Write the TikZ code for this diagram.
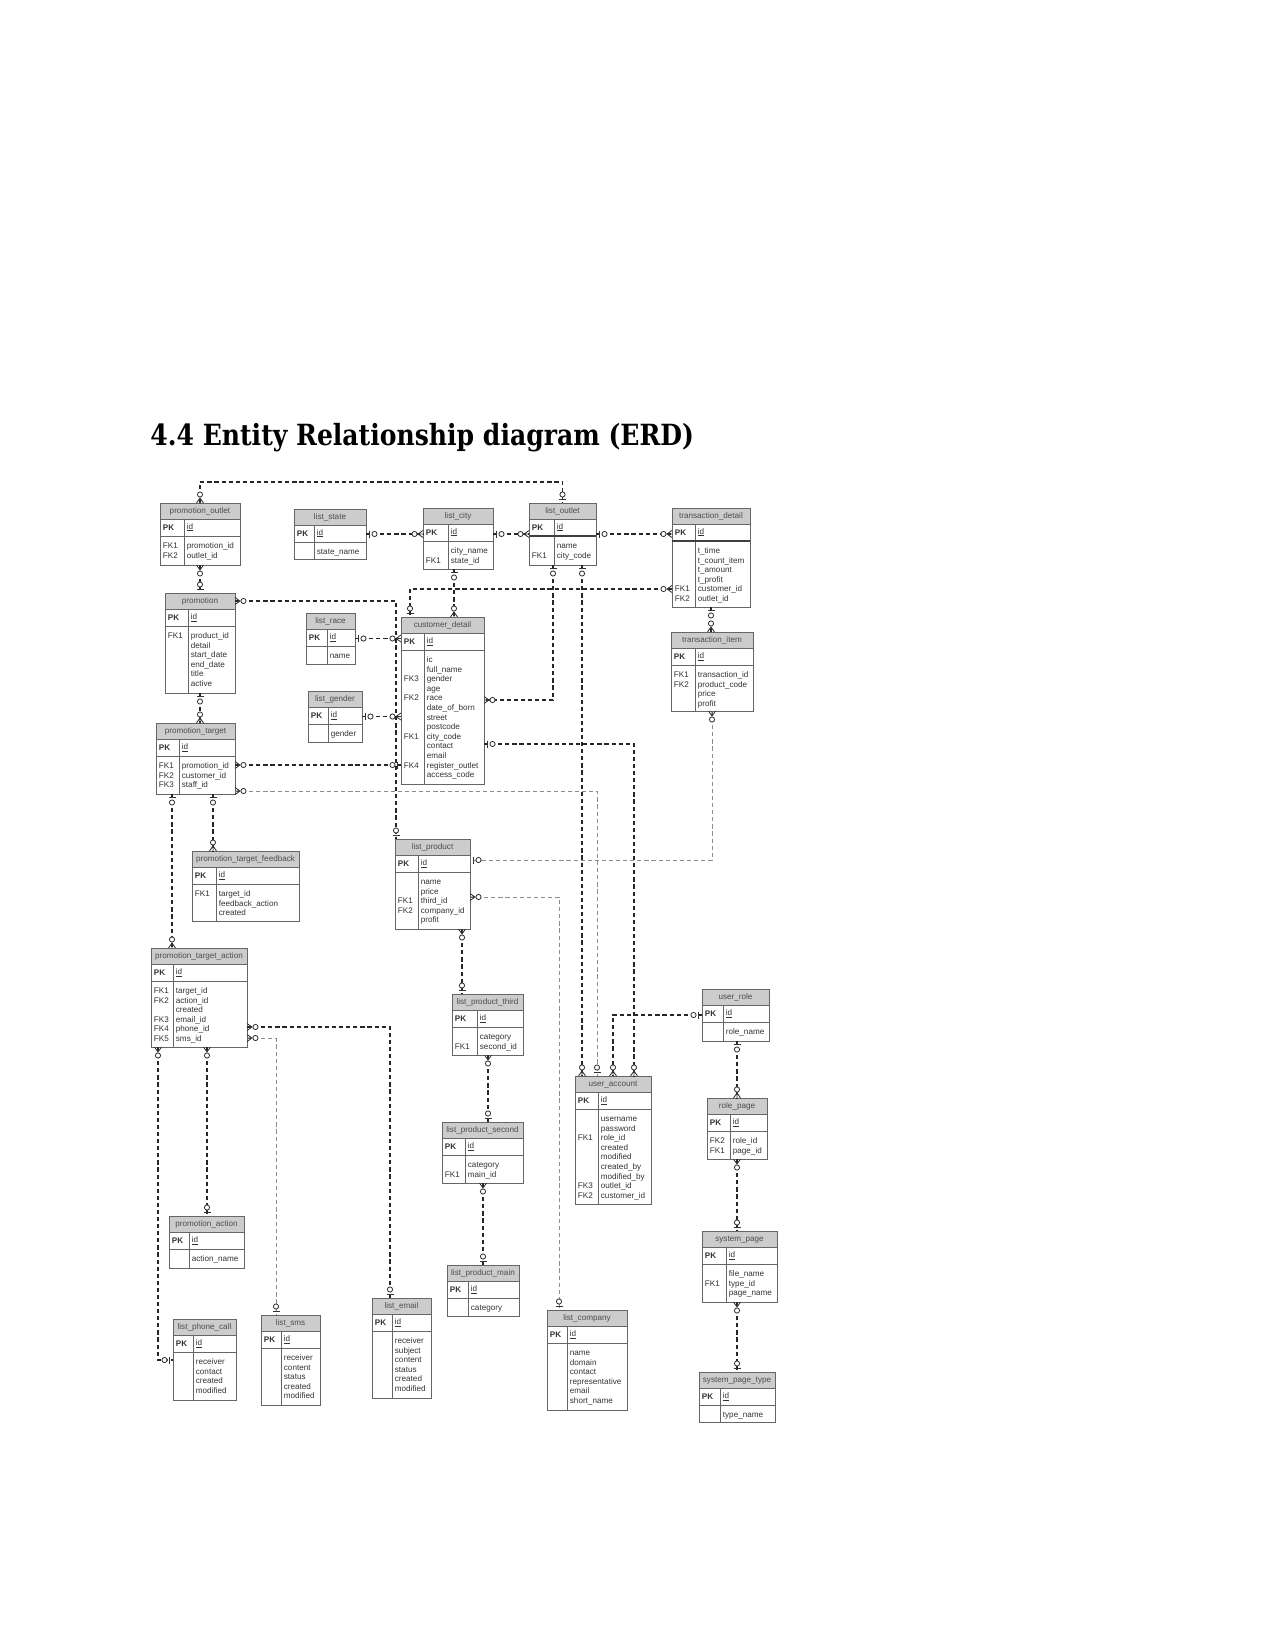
\documentclass[tikz,border=0pt]{standalone}
\usepackage{fontspec}
\newfontfamily\erdfont{Liberation Sans}
\newfontfamily\headfont[FakeStretch=0.86]{DejaVu Serif}
\usetikzlibrary{calc}

% underlined key name, rule kept close to the text
\newcommand{\keyid}{\setbox0\hbox{id}\rlap{\rule[-0.55pt]{\wd0}{0.25pt}}\box0}

% one table of the ERD: name, x, y, width, height, key column, title, keys, fields
\newcommand{\erent}[9]{%
  \begin{scope}[shift={(#2,#3)}]
    \fill[white] (0,0) rectangle (#4,#5);
    \fill[ehead] (0,0) rectangle (#4,16);
    \draw[eline] (0,16) -- (#4,16) (0,33) -- (#4,33) (#6,16) -- (#6,#5);
    \node[ttl] at (#4/2,8.5) {#7};
    \node[etxt, anchor=west] at (2.5,24.5) {\textbf{PK}};
    \node[etxt, anchor=west] at (#6+2.5,24.5) {\keyid};
    \node[etxt, anchor=north west] at (2.5,38.5) {\strut#8};
    \node[etxt, anchor=north west] at (#6+2.5,38.5) {\strut#9};
    \draw[eline] (0,0) rectangle (#4,#5);
  \end{scope}
  \node[eframe, minimum width=#4*0.48pt, minimum height=#5*0.48pt, anchor=north west] (#1) at (#2,#3) {};}

\tikzset{
  ehead/.style={fill=gray!40},
  eline/.style={draw=black!60, line width=0.45pt},
  etxt/.style={font=\erdfont\fontsize{3.9}{4.6}\selectfont, text=black!80, inner sep=0pt, align=left},
  ttl/.style={font=\erdfont\fontsize{3.9}{4.6}\selectfont, text=black!70, inner sep=0pt},
  eframe/.style={inner sep=0pt, outer sep=0pt},
  rel/.style={draw=black!85, line width=0.6pt, dash pattern=on 2pt off 1.4pt},
  rellight/.style={rel, draw=black!45, line width=0.45pt},
  zmany/.pic={
    \draw[black!80, line width=0.4pt] (0,-3.5) -- (5,0) -- (0,3.5) (0,0) -- (5,0);
    \draw[black!80, line width=0.4pt, fill=white] (8.5,0) circle (2.6);},
  zone/.pic={
    \draw[black!80, line width=0.4pt] (3.5,-3.5) -- (3.5,3.5);
    \draw[black!80, line width=0.4pt, fill=white] (8.5,0) circle (2.6);},
}

\begin{document}
\begin{tikzpicture}[x=0.48pt, y=-0.48pt]
  \useasboundingbox (0,0) rectangle (1275,1651);
  \node[anchor=base west, inner sep=0pt, font=\headfont\bfseries\fontsize{14}{17}\selectfont] (title) at (150,445)
    {4.4 Entity Relationship diagram (ERD)};

  % tables
  \erent{promoOutlet}{160}{503}{80}{62}{24}{promotion\_outlet}{FK1\\FK2}{promotion\_id\\outlet\_id}
  \erent{listState}{294}{509}{72}{50}{20}{list\_state}{}{state\_name}
  \erent{listCity}{423}{508}{70}{61}{25}{list\_city}{~\\FK1}{city\_name\\state\_id}
  \erent{listOutlet}{529}{503}{67}{62}{25}{list\_outlet}{~\\FK1}{name\\city\_code}
  \erent{transDetail}{672}{508}{78}{99}{23}{transaction\_detail}{~\\~\\~\\~\\FK1\\FK2}{t\_time\\t\_count\_item\\t\_amount\\t\_profit\\customer\_id\\outlet\_id}
  \erent{transItem}{671}{632}{82}{79}{24}{transaction\_item}{FK1\\FK2}{transaction\_id\\product\_code\\price\\profit}
  \erent{listRace}{306}{613}{49}{51}{21}{list\_race}{}{name}
  \erent{listGender}{308}{691}{54}{51}{20}{list\_gender}{}{gender}
  \erent{custDetail}{401}{617}{83}{167}{23}{customer\_detail}{~\\~\\FK3\\~\\FK2\\~\\~\\~\\FK1\\~\\~\\FK4\\~}{ic\\full\_name\\gender\\age\\race\\date\_of\_born\\street\\postcode\\city\_code\\contact\\email\\register\_outlet\\access\_code}
  \erent{promo}{165}{593}{70}{100}{23}{promotion}{FK1}{product\_id\\detail\\start\_date\\end\_date\\title\\active}
  \erent{promoTarget}{156}{723}{79}{71}{23}{promotion\_target}{FK1\\FK2\\FK3}{promotion\_id\\customer\_id\\staff\_id}
  \erent{targetFeedback}{192}{851}{107}{70}{24}{promotion\_target\_feedback}{FK1}{target\_id\\feedback\_action\\created}
  \erent{listProduct}{395}{839}{75}{90}{23}{list\_product}{~\\~\\FK1\\FK2}{name\\price\\third\_id\\company\_id\\profit}
  \erent{targetAction}{151}{948}{96}{99}{22}{promotion\_target\_action}{FK1\\FK2\\~\\FK3\\FK4\\FK5}{target\_id\\action\_id\\created\\email\_id\\phone\_id\\sms\_id}
  \erent{productThird}{452}{994}{71}{61}{25}{list\_product\_third}{~\\FK1}{category\\second\_id}
  \erent{productSecond}{442}{1122}{81}{61}{23}{list\_product\_second}{~\\FK1}{category\\main\_id}
  \erent{productMain}{447}{1265}{72}{51}{21}{list\_product\_main}{}{category}
  \erent{userAccount}{575}{1076}{76}{128}{23}{user\_account}{~\\~\\FK1\\~\\~\\~\\~\\FK3\\FK2}{username\\password\\role\_id\\created\\modified\\created\_by\\modified\_by\\outlet\_id\\customer\_id}
  \erent{userRole}{702}{989}{67}{52}{21}{user\_role}{}{role\_name}
  \erent{rolePage}{707}{1098}{60}{61}{23}{role\_page}{FK2\\FK1}{role\_id\\page\_id}
  \erent{sysPage}{702}{1231}{75}{71}{24}{system\_page}{~\\FK1}{file\_name\\type\_id\\page\_name}
  \erent{sysPageType}{699}{1372}{76}{50}{21}{system\_page\_type}{}{type\_name}
  \erent{promoAction}{169}{1216}{75}{52}{20}{promotion\_action}{}{action\_name}
  \erent{listPhone}{173}{1319}{63}{81}{20}{list\_phone\_call}{}{receiver\\contact\\created\\modified}
  \erent{listSms}{261}{1315}{59}{90}{20}{list\_sms}{}{receiver\\content\\status\\created\\modified}
  \erent{listEmail}{372}{1298}{59}{100}{20}{list\_email}{}{receiver\\subject\\content\\status\\created\\modified}
  \erent{listCompany}{547}{1310}{80}{100}{20}{list\_company}{}{name\\domain\\contact\\representative\\email\\short\_name}
  % heavier rule under the key row of two tables
  \draw[black!75, line width=0.9pt] ($(listOutlet.north west)+(0,33)$) -- ($(listOutlet.north east)+(0,33)$);
  \draw[black!75, line width=0.9pt] ($(transDetail.north west)+(0,33)$) -- ($(transDetail.north east)+(0,33)$);

  % relations
  \draw[rel] (promoOutlet.north) -- ++(0,-21) -| (listOutlet.north);
  \pic[rotate=90] at (promoOutlet.north) {zmany};
  \pic[rotate=90] at (listOutlet.north) {zone};

  \draw[rel] (promoOutlet.south) -- (promo.north);
  \pic[rotate=270] at (promoOutlet.south) {zmany};
  \pic[rotate=90] at (promo.north) {zone};

  \draw[rel] (listState.east) -- (listState.east -| listCity.west);
  \pic at (listState.east) {zone};
  \pic[rotate=180] at (listState.east -| listCity.west) {zmany};

  \draw[rel] (listOutlet.west -| listCity.east) -- (listOutlet.west);
  \pic at (listOutlet.west -| listCity.east) {zone};
  \pic[rotate=180] at (listOutlet.west) {zmany};

  \draw[rel] (listOutlet.east) -- (listOutlet.east -| transDetail.west);
  \pic at (listOutlet.east) {zone};
  \pic[rotate=180] at (listOutlet.east -| transDetail.west) {zmany};

  \draw[rel] (454,0 |- listCity.south) -- (454,0 |- custDetail.north);
  \pic[rotate=270] at (454,0 |- listCity.south) {zone};
  \pic[rotate=90] at (454,0 |- custDetail.north) {zmany};

  \draw[rel] (transDetail.west |- 0,589) -| (410,0 |- custDetail.north);
  \pic[rotate=180] at (transDetail.west |- 0,589) {zmany};
  \pic[rotate=90] at (410,0 |- custDetail.north) {zone};

  \draw[rel] (553,0 |- listOutlet.south) |- (custDetail.east |- 0,700);
  \pic[rotate=270] at (553,0 |- listOutlet.south) {zone};
  \pic at (custDetail.east |- 0,700) {zmany};

  \draw[rel] (582,0 |- listOutlet.south) -- (582,0 |- userAccount.north);
  \pic[rotate=270] at (582,0 |- listOutlet.south) {zone};
  \pic[rotate=90] at (582,0 |- userAccount.north) {zmany};

  \draw[rel] (transDetail.south) -- (transDetail.south |- transItem.north);
  \pic[rotate=270] at (transDetail.south) {zone};
  \pic[rotate=90] at (transDetail.south |- transItem.north) {zmany};

  \draw[rellight] (transItem.south) |- (listProduct.east |- 0,860);
  \pic[rotate=270] at (transItem.south) {zmany};
  \pic at (listProduct.east |- 0,860) {zone};

  \draw[rel] (listRace.east) -- (listRace.east -| custDetail.west);
  \pic at (listRace.east) {zone};
  \pic[rotate=180] at (listRace.east -| custDetail.west) {zmany};

  \draw[rel] (listGender.east) -- (listGender.east -| custDetail.west);
  \pic at (listGender.east) {zone};
  \pic[rotate=180] at (listGender.east -| custDetail.west) {zmany};

  \draw[rel] (promo.east |- 0,601) -| (396,0 |- listProduct.north);
  \pic at (promo.east |- 0,601) {zmany};
  \pic[rotate=90] at (396,0 |- listProduct.north) {zone};

  \draw[rel] (promo.south) -- (promo.south |- promoTarget.north);
  \pic[rotate=270] at (promo.south) {zone};
  \pic[rotate=90] at (promo.south |- promoTarget.north) {zmany};

  \draw[rel] (promoTarget.east |- 0,765) -- (custDetail.west |- 0,765);
  \pic at (promoTarget.east |- 0,765) {zmany};
  \pic[rotate=180] at (custDetail.west |- 0,765) {zone};

  \draw[rellight] (promoTarget.east |- 0,791) -| (597,0 |- userAccount.north);
  \pic at (promoTarget.east |- 0,791) {zmany};
  \pic[rotate=90] at (597,0 |- userAccount.north) {zone};

  \draw[rel] (custDetail.east |- 0,744) -| (634,0 |- userAccount.north);
  \pic at (custDetail.east |- 0,744) {zone};
  \pic[rotate=90] at (634,0 |- userAccount.north) {zmany};

  \draw[rel] (userRole.west |- 0,1015) -| (613,0 |- userAccount.north);
  \pic[rotate=180] at (userRole.west |- 0,1015) {zone};
  \pic[rotate=90] at (613,0 |- userAccount.north) {zmany};

  \draw[rel] (737,0 |- userRole.south) -- (737,0 |- rolePage.north);
  \pic[rotate=270] at (737,0 |- userRole.south) {zone};
  \pic[rotate=90] at (737,0 |- rolePage.north) {zmany};

  \draw[rel] (rolePage.south) -- (rolePage.south |- sysPage.north);
  \pic[rotate=270] at (rolePage.south) {zmany};
  \pic[rotate=90] at (rolePage.south |- sysPage.north) {zone};

  \draw[rel] (737,0 |- sysPage.south) -- (737,0 |- sysPageType.north);
  \pic[rotate=270] at (737,0 |- sysPage.south) {zmany};
  \pic[rotate=90] at (737,0 |- sysPageType.north) {zone};

  \draw[rel] (172,0 |- promoTarget.south) -- (172,0 |- targetAction.north);
  \pic[rotate=270] at (172,0 |- promoTarget.south) {zone};
  \pic[rotate=90] at (172,0 |- targetAction.north) {zmany};

  \draw[rel] (213,0 |- promoTarget.south) -- (213,0 |- targetFeedback.north);
  \pic[rotate=270] at (213,0 |- promoTarget.south) {zone};
  \pic[rotate=90] at (213,0 |- targetFeedback.north) {zmany};

  \draw[rel] (targetAction.east |- 0,1027) -| (390,0 |- listEmail.north);
  \pic at (targetAction.east |- 0,1027) {zmany};
  \pic[rotate=90] at (390,0 |- listEmail.north) {zone};

  \draw[rellight] (targetAction.east |- 0,1038) -| (276,0 |- listSms.north);
  \pic at (targetAction.east |- 0,1038) {zmany};
  \pic[rotate=90] at (276,0 |- listSms.north) {zone};

  \draw[rel] (158,0 |- targetAction.south) |- (listPhone.west |- 0,1360);
  \pic[rotate=270] at (158,0 |- targetAction.south) {zmany};
  \pic[rotate=180] at (listPhone.west |- 0,1360) {zone};

  \draw[rel] (207,0 |- targetAction.south) -- (207,0 |- promoAction.north);
  \pic[rotate=270] at (207,0 |- targetAction.south) {zmany};
  \pic[rotate=90] at (207,0 |- promoAction.north) {zone};

  \draw[rel] (462,0 |- listProduct.south) -- (462,0 |- productThird.north);
  \pic[rotate=270] at (462,0 |- listProduct.south) {zmany};
  \pic[rotate=90] at (462,0 |- productThird.north) {zone};

  \draw[rellight] (listProduct.east |- 0,897) -| (559,0 |- listCompany.north);
  \pic at (listProduct.east |- 0,897) {zmany};
  \pic[rotate=90] at (559,0 |- listCompany.north) {zone};

  \draw[rel] (488,0 |- productThird.south) -- (488,0 |- productSecond.north);
  \pic[rotate=270] at (488,0 |- productThird.south) {zmany};
  \pic[rotate=90] at (488,0 |- productSecond.north) {zone};

  \draw[rel] (483,0 |- productSecond.south) -- (483,0 |- productMain.north);
  \pic[rotate=270] at (483,0 |- productSecond.south) {zmany};
  \pic[rotate=90] at (483,0 |- productMain.north) {zone};
\end{tikzpicture}
\end{document}
